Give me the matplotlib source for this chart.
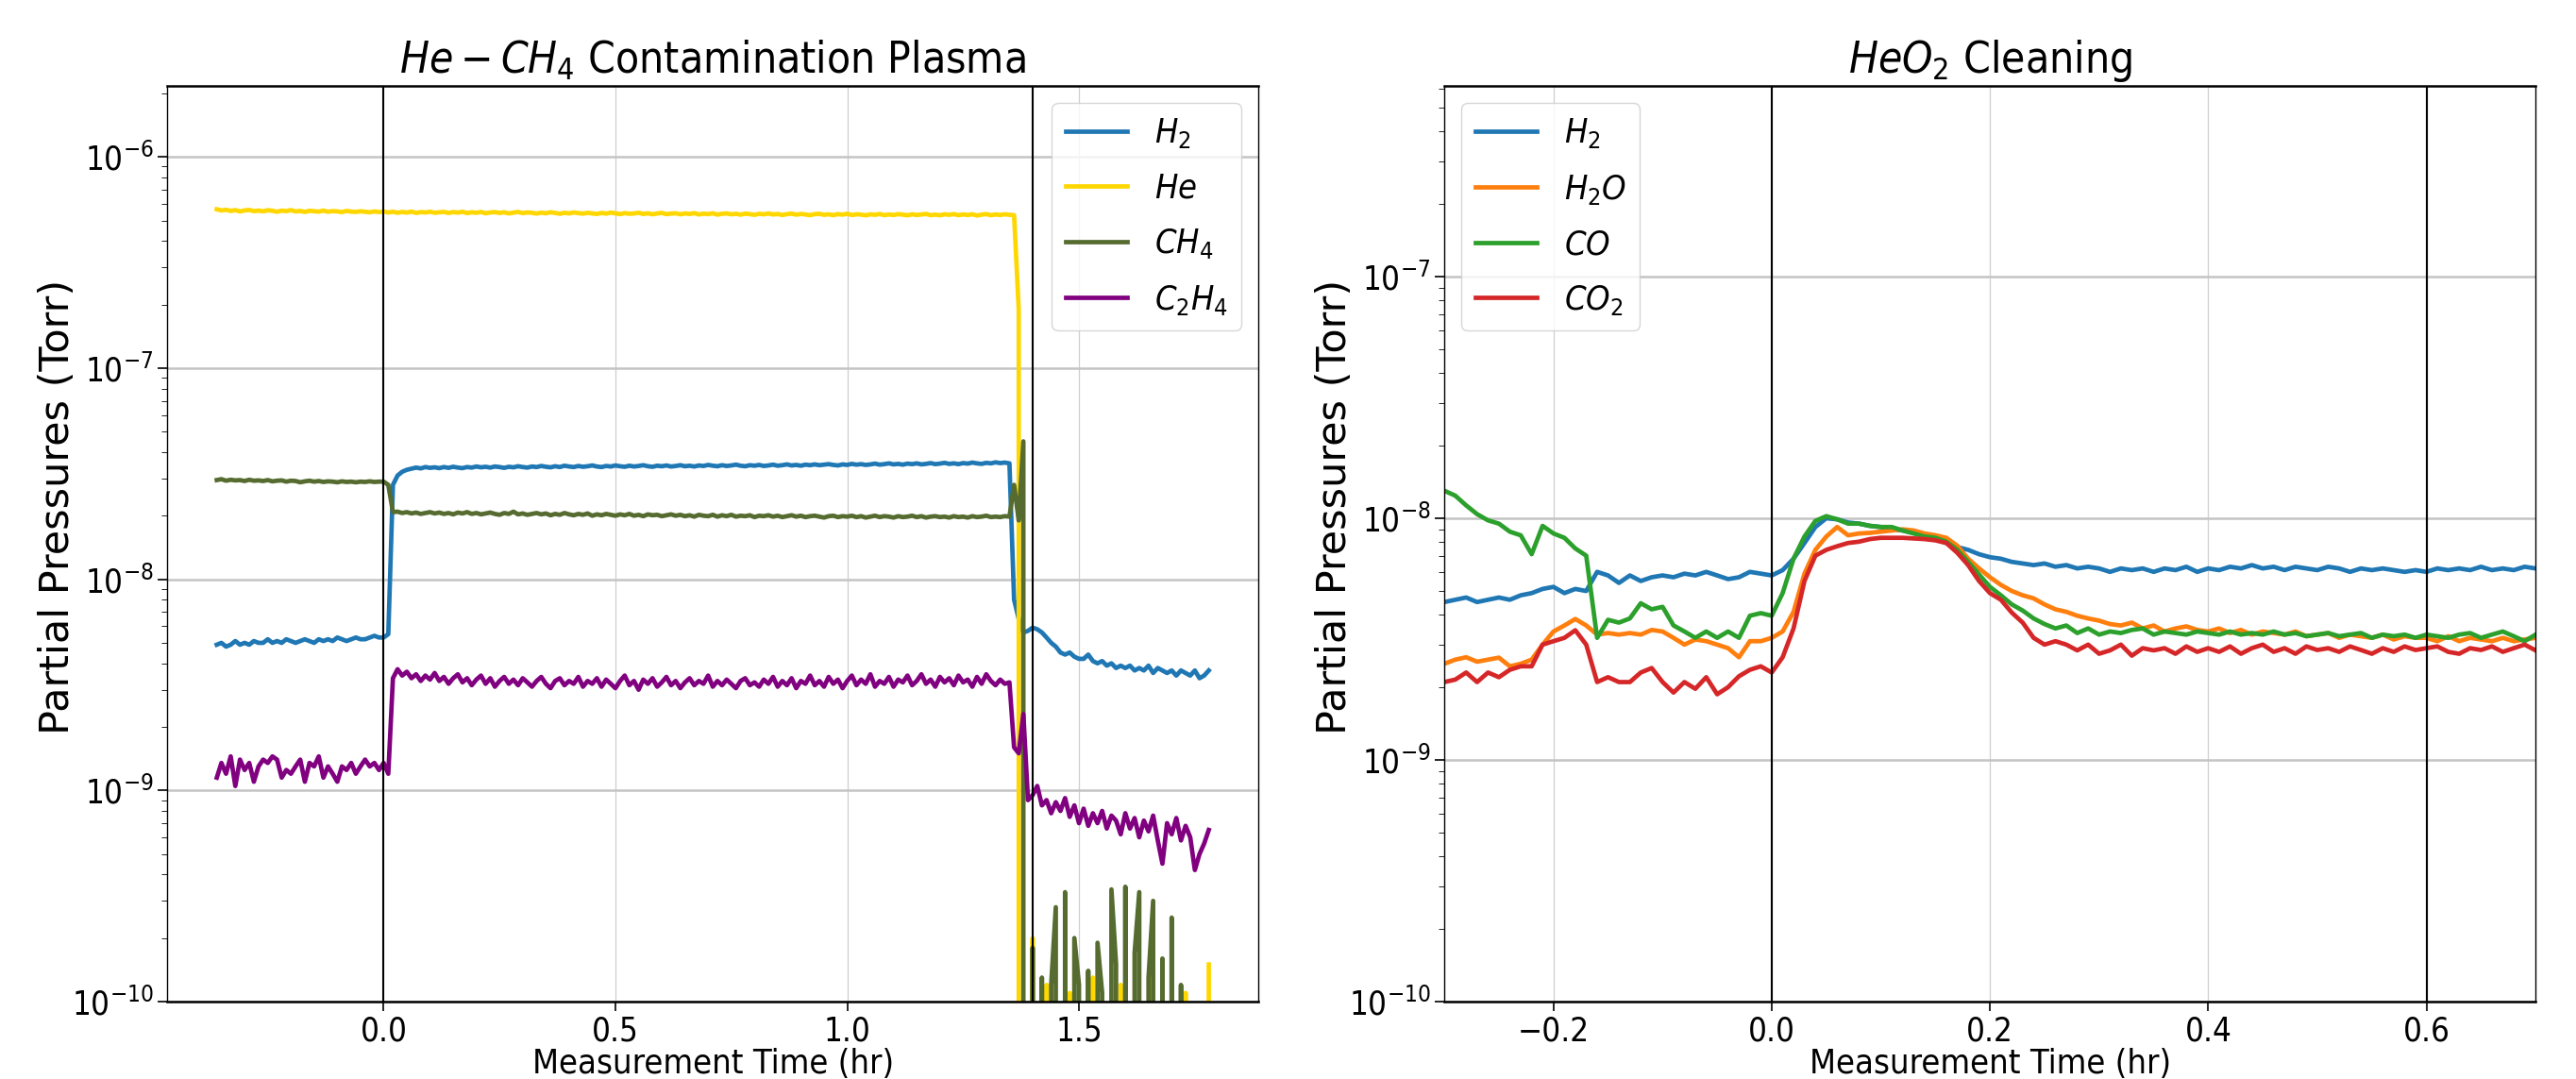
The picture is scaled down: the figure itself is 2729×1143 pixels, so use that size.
import matplotlib

matplotlib.use("Agg")
import matplotlib.pyplot as plt
import numpy as np
from matplotlib import font_manager

# The reference uses a narrow face; take a condensed font if one is installed.
_narrow = [f for f in font_manager.fontManager.ttflist
           if f.stretch in ("condensed", "semi-condensed")
           or "Narrow" in f.name or "Condensed" in f.name]
if _narrow:
    FONT, STRETCH = _narrow[0].name, _narrow[0].stretch
    SIZES = dict(title=33, tick=25, legend=26, xlabel=26, ylabel=31)
else:
    FONT, STRETCH = "DejaVu Sans", "normal"
    SIZES = dict(title=28, tick=23, legend=23, xlabel=25, ylabel=30)

plt.rcParams["font.family"] = [FONT, "DejaVu Sans"]
plt.rcParams["font.stretch"] = STRETCH
plt.rcParams["mathtext.fontset"] = "custom"
plt.rcParams["mathtext.rm"] = f"{FONT}:stretch={STRETCH}"
plt.rcParams["mathtext.it"] = f"{FONT}:style=italic:stretch={STRETCH}"
plt.rcParams["mathtext.bf"] = f"{FONT}:weight=bold:stretch={STRETCH}"

# --------------------------------------------------------------------------- #
# Data (partial pressures in units of 1e-9 Torr, sampled every 0.01 hr)
# --------------------------------------------------------------------------- #
DT = 0.01
T0_LEFT = -0.36
T0_RIGHT = -0.30

LEFT_LABELS = [r"$H_2$", r"$He$", r"$CH_4$", r"$C_2H_4$"]
LEFT_COLORS = ["#1f77b4", "#FFD700", "#556B2F", "#800080"]
LEFT_MARKS = [0.0, 1.4]
LEFT_XTICKS = [0.0, 0.5, 1.0, 1.5]

H2_LEFT = [
    4.9, 5.0, 4.8, 4.9, 5.1, 4.9, 5.0, 4.9, 5.1, 5.0,
    5.0, 5.2, 5.0, 5.1, 5.0, 5.2, 5.1, 5.0, 5.1, 5.2,
    5.1, 5.0, 5.2, 5.1, 5.2, 5.1, 5.3, 5.2, 5.1, 5.2,
    5.3, 5.2, 5.2, 5.3, 5.4, 5.3,
    5.3, 5.5, 28.0,
    31.0, 32.3, 33.0, 33.4, 33.8, 33.5, 34.0, 33.7, 33.9, 33.6,
    34.0, 33.7, 34.1, 33.8, 33.6, 34.0, 33.8, 34.2, 33.9, 34.1,
    33.8, 34.2, 34.0, 33.7, 34.1, 33.9, 34.3, 34.0, 33.8, 34.2,
    34.0, 34.4, 34.1, 33.9, 34.3, 34.0, 34.5, 34.2, 34.0, 34.4,
    34.1, 34.3, 34.6, 34.2, 34.0, 34.4, 34.2, 34.6, 34.3, 34.1,
    34.5, 34.2, 34.4, 34.7, 34.3, 34.1, 34.5, 34.3, 34.6, 34.2,
    34.4, 34.7, 34.3, 34.5, 34.2, 34.6, 34.4, 34.8, 34.5, 34.3,
    34.7, 34.4, 34.6, 34.9, 34.5, 34.3, 34.7, 34.5, 34.8, 34.4,
    34.6, 34.9, 34.5, 34.7, 35.0, 34.6, 34.8, 34.5, 34.9, 34.7,
    35.0, 34.7, 34.9, 35.1, 34.8, 34.6, 35.0, 34.8, 35.2, 34.9,
    35.1, 34.8, 35.0, 35.3, 34.9, 35.1, 35.4, 35.0, 35.2, 34.9,
    35.3, 35.1, 35.4, 35.0, 35.2, 35.5, 35.1, 35.3, 35.6, 35.2,
    35.4, 35.1, 35.5, 35.3, 35.7, 35.4, 35.2, 35.6, 35.4, 35.8,
    35.5, 35.7, 35.4,
    8.0, 6.5, 5.6, 5.7, 5.9, 5.8, 5.6, 5.3, 5.0, 4.8,
    4.5, 4.4, 4.5, 4.3, 4.2, 4.2, 4.4, 4.1, 4.0, 4.1,
    3.9, 4.0, 3.8, 3.9, 3.8, 3.9, 3.7, 3.8, 3.7, 3.9,
    3.6, 3.8, 3.7, 3.6, 3.7, 3.5, 3.7, 3.6, 3.5, 3.7,
    3.4, 3.5, 3.7,
]

HE_LEFT = [
    565, 558, 562, 555, 560, 552, 558, 561, 554, 557,
    553, 559, 556, 550, 557, 554, 560, 552, 555, 549,
    556, 553, 551, 557, 550, 554, 552, 548, 555, 551,
    549, 553, 550, 547, 552, 548, 551, 546, 550, 544,
    549, 545, 551, 543, 548, 546, 550, 544, 547, 549,
    543, 548, 545, 550, 542, 547, 544, 549, 541, 546,
    548, 543, 547, 540, 545, 549, 542, 546, 544, 539,
    545, 541, 547, 543, 538, 544, 540, 546, 542, 539,
    544, 540, 537, 543, 539, 545, 541, 536, 542, 538,
    540, 544, 537, 541, 535, 540, 543, 536, 539, 541,
    535, 540, 537, 542, 534, 539, 536, 541, 533, 538,
    540, 535, 538, 533, 539, 536, 532, 538, 535, 540,
    534, 537, 531, 536, 539, 533, 537, 534, 530, 536,
    538, 532, 535, 530, 536, 533, 538, 531, 535, 533,
    529, 535, 532, 537, 530, 534, 531, 536, 533, 529,
    535, 531, 534, 537, 530, 533, 529, 535, 532, 536,
    530, 534, 531, 535, 528, 533, 536, 530, 534, 531,
    535, 532, 530, 190, 0.0,
    0.0, 0.2, 0.0, 0.0, 0.12, 0.0, 0.0, 0.0, 0.0, 0.11,
    0.0, 0.0, 0.0, 0.0, 0.13, 0.0, 0.0, 0.0, 0.0, 0.0,
    0.12, 0.0, 0.0, 0.0, 0.0, 0.0, 0.0, 0.15, 0.0, 0.0,
    0.0, 0.0, 0.0, 0.0, 0.11, 0.0, 0.0, 0.0, 0.0, 0.15,
]

CH4_LEFT = [
    29.5, 29.8, 29.3, 29.6, 29.4, 29.5, 29.2, 29.6, 29.3, 29.4,
    29.2, 29.5, 29.1, 29.3, 29.4, 29.0, 29.3, 29.2, 28.8, 29.1,
    29.3, 29.0, 29.2, 28.9, 29.1, 29.0, 28.8, 29.1, 28.9, 29.0,
    28.8, 29.0, 28.9, 29.1, 28.9, 29.0,
    29.0, 28.0, 20.8,
    20.9, 20.6, 20.8, 20.5, 20.7, 20.4, 20.6, 20.8, 20.5, 20.7,
    20.4, 20.6, 20.3, 20.7, 20.5, 20.8, 20.4, 20.6, 20.3, 20.5,
    20.7, 20.4, 20.2, 20.6, 20.4, 20.9, 20.3, 20.5, 20.2, 20.4,
    20.6, 20.3, 20.5, 20.1, 20.4, 20.2, 20.6, 20.3, 20.1, 20.4,
    20.2, 20.5, 20.0, 20.3, 20.1, 20.4, 20.2, 20.0, 20.3, 20.1,
    20.4, 20.0, 20.2, 19.9, 20.3, 20.1, 20.2, 19.9, 20.1, 20.3,
    20.0, 20.2, 19.9, 20.1, 19.8, 20.2, 20.0, 19.9, 20.2, 19.8,
    20.1, 19.9, 20.2, 19.8, 20.0, 19.9, 20.1, 19.7, 20.0, 19.9,
    20.1, 19.8, 20.0, 19.7, 19.9, 20.1, 19.8, 20.0, 19.7, 19.9,
    20.0, 19.8, 19.6, 19.9, 20.0, 19.7, 19.9, 19.8, 20.0, 19.7,
    19.9, 19.6, 19.8, 20.0, 19.7, 19.9, 19.8, 19.6, 19.9, 19.7,
    19.8, 20.0, 19.7, 19.9, 19.6, 19.8, 19.9, 19.7, 19.8, 19.6,
    19.9, 19.7, 19.8, 19.6, 19.9, 19.7, 19.8, 20.0, 19.7, 19.8,
    19.7, 19.9, 19.8,
    28.0, 19.0, 45.0,
    0.0, 0.18, 0.0, 0.13, 0.0, 0.12, 0.28, 0.0, 0.33, 0.0,
    0.2, 0.12, 0.0, 0.14, 0.0, 0.19, 0.11, 0.0, 0.34, 0.15,
    0.0, 0.35, 0.0, 0.17, 0.33, 0.0, 0.13, 0.3, 0.0, 0.16,
    0.0, 0.25, 0.0, 0.12, 0.0, 0.0, 0.0, 0.0, 0.0, 0.0,
]

C2H4_LEFT = [
    1.15, 1.35, 1.2, 1.45, 1.05, 1.4, 1.25, 1.35, 1.1, 1.3,
    1.4, 1.35, 1.45, 1.4, 1.15, 1.25, 1.2, 1.3, 1.4, 1.1,
    1.35, 1.3, 1.45, 1.15, 1.3, 1.2, 1.1, 1.3, 1.25, 1.35,
    1.2, 1.3, 1.4, 1.3, 1.35, 1.25,
    1.35, 1.2, 3.4,
    3.75, 3.5, 3.65, 3.4, 3.55, 3.3, 3.5, 3.35, 3.6, 3.3,
    3.45, 3.2, 3.4, 3.55, 3.25, 3.4, 3.15, 3.35, 3.5, 3.2,
    3.4, 3.1, 3.3, 3.45, 3.2, 3.35, 3.15, 3.4, 3.25, 3.1,
    3.3, 3.45, 3.2, 3.05, 3.3, 3.4, 3.15, 3.3, 3.2, 3.45,
    3.1, 3.3, 3.2, 3.4, 3.1, 3.35, 3.2, 3.05, 3.3, 3.5,
    3.15, 3.3, 3.0, 3.35, 3.2, 3.4, 3.1, 3.25, 3.45, 3.15,
    3.3, 3.05, 3.25, 3.4, 3.15, 3.3, 3.2, 3.5, 3.1, 3.3,
    3.15, 3.35, 3.2, 3.05, 3.3, 3.4, 3.15, 3.25, 3.1, 3.35,
    3.2, 3.45, 3.1, 3.3, 3.15, 3.4, 3.05, 3.3, 3.2, 3.5,
    3.15, 3.3, 3.1, 3.45, 3.2, 3.35, 3.05, 3.3, 3.5, 3.15,
    3.35, 3.2, 3.55, 3.1, 3.3, 3.2, 3.45, 3.1, 3.35, 3.25,
    3.5, 3.15, 3.3, 3.55, 3.2, 3.35, 3.1, 3.45, 3.25, 3.4,
    3.15, 3.5, 3.25, 3.35, 3.1, 3.45, 3.2, 3.55, 3.3, 3.15,
    3.35, 3.2, 3.25,
    1.6, 1.5, 2.3, 0.9,
    0.95, 1.05, 0.85, 0.9, 0.78, 0.88, 0.8, 0.92, 0.75, 0.85,
    0.7, 0.82, 0.68, 0.78, 0.7, 0.8, 0.66, 0.76, 0.72, 0.62,
    0.78, 0.66, 0.74, 0.6, 0.72, 0.64, 0.76, 0.58, 0.45, 0.7,
    0.62, 0.74, 0.58, 0.68, 0.6, 0.42, 0.5, 0.56, 0.65,
]

RIGHT_LABELS = [r"$H_2$", r"$H_2O$", r"$CO$", r"$CO_2$"]
RIGHT_COLORS = ["#1f77b4", "#ff7f0e", "#2ca02c", "#d62728"]
RIGHT_MARKS = [0.0, 0.6]
RIGHT_XTICKS = [-0.2, 0.0, 0.2, 0.4, 0.6]

H2_RIGHT = [
    4.5, 4.6, 4.7, 4.5, 4.6, 4.7, 4.6, 4.8, 4.9, 5.1,
    5.2, 4.9, 5.1, 5.0, 6.0, 5.8, 5.4, 5.8, 5.5, 5.7,
    5.8, 5.7, 5.9, 5.8, 6.0, 5.8, 5.6, 5.7, 6.0, 5.9,
    5.8, 6.1, 6.8, 7.9, 9.2, 10.0, 9.9, 9.6, 9.5, 9.3,
    9.2, 9.0, 8.9, 8.7, 8.5, 8.2, 7.9, 7.6, 7.4, 7.1,
    6.9, 6.8, 6.6, 6.5, 6.4, 6.5, 6.3, 6.4, 6.2, 6.3,
    6.2, 6.0, 6.2, 6.1, 6.2, 6.0, 6.2, 6.1, 6.3, 6.0,
    6.2, 6.1, 6.3, 6.2, 6.4, 6.2, 6.3, 6.1, 6.3, 6.2,
    6.1, 6.3, 6.2, 6.0, 6.2, 6.1, 6.2, 6.1, 6.0, 6.1,
    6.0, 6.2, 6.1, 6.2, 6.1, 6.3, 6.1, 6.2, 6.1, 6.3,
    6.2,
]

H2O_RIGHT = [
    2.5, 2.6, 2.66, 2.55, 2.6, 2.65, 2.44, 2.5, 2.6, 3.0,
    3.4, 3.6, 3.83, 3.6, 3.3, 3.35, 3.3, 3.35, 3.3, 3.45,
    3.4, 3.2, 3.0, 3.15, 3.1, 3.0, 2.9, 2.66, 3.1, 3.1,
    3.2, 3.4, 4.1, 5.9, 7.4, 8.4, 9.2, 8.5, 8.65, 8.7,
    8.8, 8.9, 9.0, 8.9, 8.65, 8.5, 8.3, 7.7, 6.8, 6.2,
    5.7, 5.3, 5.0, 4.8, 4.66, 4.4, 4.2, 4.1, 3.95, 3.85,
    3.77, 3.65, 3.6, 3.7, 3.5, 3.6, 3.4, 3.5, 3.57, 3.45,
    3.4, 3.5, 3.35, 3.45, 3.3, 3.4, 3.35, 3.3, 3.4, 3.25,
    3.3, 3.35, 3.2, 3.3, 3.25, 3.2, 3.3, 3.15, 3.25, 3.2,
    3.2, 3.1, 3.25, 3.1, 3.2, 3.15, 3.1, 3.2, 3.1, 3.15,
    3.2,
]

CO_RIGHT = [
    13.0, 12.4, 11.3, 10.4, 9.8, 9.5, 8.8, 8.5, 7.1, 9.3,
    8.65, 8.3, 7.5, 7.0, 3.2, 3.8, 3.7, 3.85, 4.45, 4.2,
    4.3, 3.6, 3.4, 3.2, 3.4, 3.2, 3.4, 3.2, 3.95, 4.05,
    3.95, 4.9, 6.8, 8.4, 9.75, 10.2, 9.9, 9.5, 9.5, 9.3,
    9.2, 9.2, 8.9, 8.65, 8.4, 8.3, 8.0, 7.4, 6.6, 5.85,
    5.2, 4.8, 4.4, 4.15, 3.85, 3.65, 3.5, 3.6, 3.35, 3.5,
    3.3, 3.4, 3.35, 3.45, 3.5, 3.3, 3.4, 3.35, 3.3, 3.4,
    3.35, 3.3, 3.4, 3.3, 3.35, 3.3, 3.4, 3.3, 3.35, 3.25,
    3.3, 3.35, 3.25, 3.3, 3.35, 3.2, 3.3, 3.25, 3.3, 3.2,
    3.3, 3.25, 3.2, 3.3, 3.35, 3.2, 3.3, 3.4, 3.25, 3.1,
    3.3,
]

CO2_RIGHT = [
    2.1, 2.15, 2.3, 2.1, 2.3, 2.2, 2.36, 2.44, 2.44, 3.0,
    3.1, 3.2, 3.44, 3.0, 2.1, 2.2, 2.1, 2.1, 2.3, 2.4,
    2.1, 1.9, 2.1, 1.97, 2.2, 1.87, 2.0, 2.22, 2.36, 2.44,
    2.3, 2.66, 3.5, 5.5, 7.0, 7.4, 7.66, 7.9, 8.0, 8.2,
    8.3, 8.3, 8.3, 8.25, 8.2, 8.1, 7.9, 7.2, 6.4, 5.5,
    4.9, 4.6, 4.07, 3.7, 3.2, 3.0, 3.1, 3.0, 2.84, 3.0,
    2.75, 2.84, 3.0, 2.7, 2.9, 2.84, 2.9, 2.75, 2.95, 2.8,
    2.9, 2.8, 2.95, 2.75, 2.9, 3.0, 2.8, 2.9, 2.75, 2.95,
    2.85, 2.9, 2.8, 2.95, 2.85, 2.75, 2.9, 2.8, 2.95, 2.85,
    2.9, 2.95, 2.8, 2.75, 2.9, 2.85, 2.95, 2.8, 2.9, 3.0,
    2.84,
]


def times(t0, series):
    return t0 + DT * np.arange(len(series))


def style_axis(ax, title, ylim, xticks, marks):
    ax.set_yscale("log")
    ax.set_ylim(*ylim)
    ax.set_xticks(xticks)
    for m in marks:
        ax.axvline(m, color="black", lw=1.5)
    ax.grid(axis="y", which="major", color="#c4c4c4", lw=1.8)
    ax.grid(axis="x", which="major", color="#cfcfcf", lw=0.9)
    ax.set_axisbelow(True)
    ax.set_title(title, fontsize=SIZES["title"], pad=10)
    ax.set_xlabel("Measurement Time (hr)", fontsize=SIZES["xlabel"])
    ax.xaxis.set_label_coords(0.5, -0.05)
    ax.set_ylabel("Partial Pressures (Torr)", fontsize=SIZES["ylabel"],
                  family="DejaVu Sans", stretch="normal")
    ax.yaxis.set_label_coords(-0.082, 0.54)
    ax.tick_params(axis="both", which="major", labelsize=SIZES["tick"], length=7, width=1.2)
    ax.tick_params(axis="y", which="minor", length=4)
    for side in ("top", "bottom"):
        ax.spines[side].set_linewidth(1.8)
    for side in ("left", "right"):
        ax.spines[side].set_linewidth(1.0)


fig = plt.figure(figsize=(27.29, 11.43), dpi=100)
ax1 = fig.add_axes([0.0649, 0.0717, 0.4236, 0.8487])
ax2 = fig.add_axes([0.5607, 0.0717, 0.4236, 0.8487])

for vals, lab, col in zip([H2_LEFT, HE_LEFT, CH4_LEFT, C2H4_LEFT], LEFT_LABELS, LEFT_COLORS):
    ax1.plot(times(T0_LEFT, vals), np.asarray(vals) * 1e-9, color=col, lw=3.4, label=lab)
style_axis(ax1, r"$He - CH_4$ Contamination Plasma", (1e-10, 2.17e-6), LEFT_XTICKS, LEFT_MARKS)
ax1.legend(loc="upper right", fontsize=SIZES["legend"], handlelength=1.8, labelspacing=0.65)

for vals, lab, col in zip([H2_RIGHT, H2O_RIGHT, CO_RIGHT, CO2_RIGHT], RIGHT_LABELS, RIGHT_COLORS):
    ax2.plot(times(T0_RIGHT, vals), np.asarray(vals) * 1e-9, color=col, lw=3.4, label=lab)
style_axis(ax2, r"$HeO_2$ Cleaning", (1e-10, 6.15e-7), RIGHT_XTICKS, RIGHT_MARKS)
ax2.set_xlim(-0.3, 0.7)
ax2.legend(loc="upper left", fontsize=SIZES["legend"], handlelength=1.8, labelspacing=0.65)

fig.savefig("out.png", dpi=100)
plt.close(fig)
